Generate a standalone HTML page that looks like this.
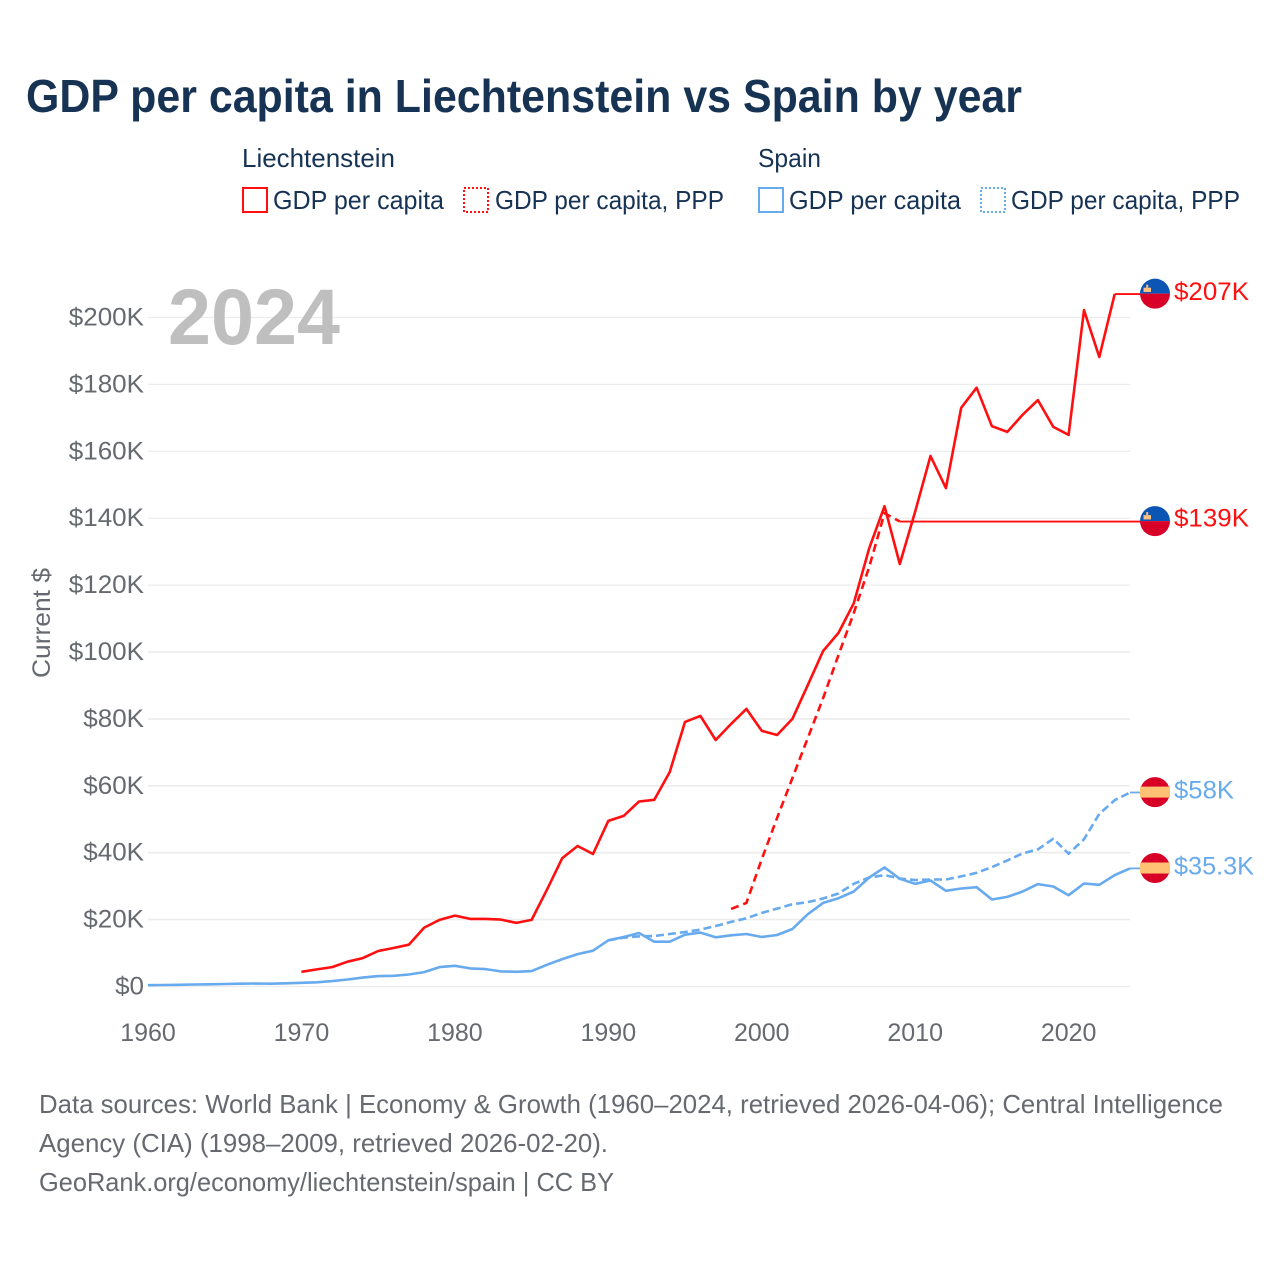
<!DOCTYPE html>
<html lang="en">
<head>
<meta charset="utf-8">
<title>GDP per capita in Liechtenstein vs Spain by year</title>
<style>
html,body{margin:0;padding:0;background:#fff;}
svg{display:block;}
text{font-family:"Liberation Sans",sans-serif;}
</style>
</head>
<body>
<svg id="chart" xmlns="http://www.w3.org/2000/svg" width="1280" height="1280" viewBox="0 0 1280 1280">
  <rect x="0" y="0" width="1280" height="1280" fill="#fff"/>
  <text x="26" y="112" font-size="46" font-weight="700" fill="#173354" textLength="996" lengthAdjust="spacingAndGlyphs">GDP per capita in Liechtenstein vs Spain by year</text>

  <g font-size="26" fill="#173354">
    <text x="242" y="167" textLength="153" lengthAdjust="spacingAndGlyphs">Liechtenstein</text>
    <text x="758" y="167" textLength="63" lengthAdjust="spacingAndGlyphs">Spain</text>
    <rect x="243" y="188" width="24" height="24" fill="none" stroke="#ff0f0f" stroke-width="2"/>
    <text x="273" y="209" textLength="171" lengthAdjust="spacingAndGlyphs">GDP per capita</text>
    <rect x="464" y="188" width="24" height="24" fill="none" stroke="#ff0f0f" stroke-width="2" stroke-dasharray="2 2"/>
    <text x="495" y="209" textLength="229" lengthAdjust="spacingAndGlyphs">GDP per capita, PPP</text>
    <rect x="759" y="188" width="24" height="24" fill="none" stroke="#68aaee" stroke-width="2"/>
    <text x="789" y="209" textLength="172" lengthAdjust="spacingAndGlyphs">GDP per capita</text>
    <rect x="981" y="188" width="24" height="24" fill="none" stroke="#68aaee" stroke-width="2" stroke-dasharray="2 2"/>
    <text x="1011" y="209" textLength="229" lengthAdjust="spacingAndGlyphs">GDP per capita, PPP</text>
  </g>

  <g id="grid"></g>
  <g id="yticks"></g>
  <g id="xticks"></g>

  <text x="168" y="344" font-size="79" font-weight="700" fill="#bfbfbf" textLength="172" lengthAdjust="spacingAndGlyphs">2024</text>
  <text transform="translate(50,678) rotate(-90)" font-size="25" fill="#666a70" textLength="110" lengthAdjust="spacingAndGlyphs">Current $</text>

  <g id="series"></g>
  <g id="ends"></g>

  <g font-size="26" fill="#666a70">
    <text x="39" y="1113" textLength="1184" lengthAdjust="spacingAndGlyphs">Data sources: World Bank | Economy &amp; Growth (1960–2024, retrieved 2026-04-06); Central Intelligence</text>
    <text x="39" y="1152" textLength="569" lengthAdjust="spacingAndGlyphs">Agency (CIA) (1998–2009, retrieved 2026-02-20).</text>
    <text x="39" y="1191" textLength="575" lengthAdjust="spacingAndGlyphs">GeoRank.org/economy/liechtenstein/spain | CC BY</text>
  </g>
</svg>
<script>
var yTickValues = [0,20,40,60,80,100,120,140,160,180,200];
var yTickLabels = ["$0","$20K","$40K","$60K","$80K","$100K","$120K","$140K","$160K","$180K","$200K"];
var xTickValues = [1960,1970,1980,1990,2000,2010,2020];
var xTickLabels = ["1960","1970","1980","1990","2000","2010","2020"];

var liechtensteinGdpStart = 1970;
var liechtensteinGdp = [4.4,5.1,5.8,7.4,8.5,10.6,11.5,12.5,17.6,19.9,21.2,20.2,20.2,20.0,19.0,19.9,28.9,38.4,42.0,39.6,49.5,51.0,55.3,55.8,64.1,79.1,80.9,73.7,78.5,83.0,76.4,75.2,80.0,90.1,100.3,105.7,114.6,131.0,143.6,126.3,142.0,158.6,149.0,173.0,179.0,167.5,165.8,170.9,175.3,167.3,164.9,202.2,188.2,207.0];
var liechtensteinPppStart = 1998;
var liechtensteinPpp = [23.2,25.0,38.1,50.4,62.3,74.3,86.2,99.1,111.7,125.4,141.5,139.0];
var spainGdpStart = 1960;
var spainGdp = [0.4,0.45,0.5,0.6,0.65,0.75,0.85,0.9,0.85,0.95,1.1,1.25,1.6,2.1,2.65,3.1,3.2,3.6,4.3,5.8,6.2,5.4,5.2,4.5,4.4,4.6,6.5,8.2,9.7,10.7,13.8,14.8,16.0,13.4,13.4,15.5,16.1,14.7,15.3,15.7,14.8,15.4,17.2,21.6,25.0,26.4,28.4,32.6,35.6,32.2,30.7,31.7,28.6,29.3,29.7,26.0,26.8,28.4,30.6,29.9,27.3,30.8,30.4,33.3,35.3];
var spainPppStart = 1990;
var spainPpp = [13.8,14.6,15.0,15.1,15.7,16.3,17.0,18.1,19.3,20.4,22.0,23.3,24.6,25.2,26.3,27.8,30.7,32.6,33.3,32.3,31.8,32.0,32.0,32.9,34.0,35.7,37.7,39.8,41.0,44.2,39.7,44.0,51.6,55.7,58.0];

var endLabels = ["$207K","$139K","$58K","$35.3K"];

var NS = "http://www.w3.org/2000/svg";
var RED = "#ff0f0f";
var BLUE = "#68aaee";

function xScale(year){ return 148 + (year - 1960) * (1130 - 148) / 64; }
function yScale(k){ return 986.5 - k * (986.5 - 317.5) / 200; }

function make(tag, attrs, parent){
  var el = document.createElementNS(NS, tag);
  for (var key in attrs){ el.setAttribute(key, attrs[key]); }
  parent.appendChild(el);
  return el;
}

function stretch(t, factor){
  t.setAttribute("textLength", (t.getComputedTextLength() * factor).toFixed(1));
  t.setAttribute("lengthAdjust", "spacingAndGlyphs");
}

var gridG = document.getElementById("grid");
var yG = document.getElementById("yticks");
var xG = document.getElementById("xticks");
var seriesG = document.getElementById("series");
var endsG = document.getElementById("ends");

yTickValues.forEach(function(v, i){
  var line = make("line", {x1:148, x2:1130, y1:yScale(v), y2:yScale(v), stroke:"#ececec", "stroke-width":v === 0 || v >= 120 ? 1.2 : 1.6}, gridG);
  
  
  var t = make("text", {x:144, y:yScale(v) + 8, "text-anchor":"end", "font-size":25, fill:"#666a70"}, yG);
  
  
  t.textContent = yTickLabels[i];
  stretch(t, 1.04);
});

xTickValues.forEach(function(v, i){
  var t = make("text", {x:xScale(v), y:1041, "text-anchor":"middle", "font-size":25, fill:"#666a70"}, xG);
  
  
  t.textContent = xTickLabels[i];
  stretch(t, 1.0);
});

function drawSeries(values, start, color, dash, name){
  var pts = values.map(function(v, i){ return xScale(start + i).toFixed(1) + "," + yScale(v).toFixed(1); }).join(" ");
  var attrs = {points:pts, fill:"none", stroke:color, "stroke-width":2.6, "stroke-linejoin":"round"};
  if (dash){ attrs["stroke-dasharray"] = dash; }
  var el = make("polyline", attrs, seriesG);
  
  
}

function drawEnd(values, start, color, flag, label, labelDy, labelW, name){
  var last = values[values.length - 1];
  var lastX = xScale(start + values.length - 1);
  var y = yScale(last);
  var leader = make("line", {x1:lastX, x2:1141, y1:y, y2:y, stroke:color, "stroke-width":1.8}, endsG);
  
  
  var g = make("g", {transform:"translate(1155," + (y - 0.4) + ")"}, endsG);
  
  
  if (flag === "li"){
    make("path", {d:"M-15 0A15 15 0 0 1 15 0Z", fill:"#0b55b5"}, g);
    make("path", {d:"M-15 0A15 15 0 0 0 15 0Z", fill:"#d80027"}, g);
    make("rect", {x:-11.5, y:-6, width:7.5, height:4.3, fill:"#ffc080"}, g);
    make("rect", {x:-8.8, y:-9, width:2, height:3, fill:"#ffc080"}, g);
  } else {
    make("circle", {cx:0, cy:0, r:15, fill:"#d80027"}, g);
    make("rect", {x:-15, y:-5.5, width:30, height:11, fill:"#ffc275"}, g);
  }
  var t = make("text", {x:1174, y:y + labelDy, "font-size":25, fill:color, textLength:labelW, lengthAdjust:"spacingAndGlyphs"}, endsG);
  
  
  t.textContent = label;
}

drawSeries(liechtensteinGdp, liechtensteinGdpStart, RED, null, "liechtenstein-gdp-line");
drawSeries(liechtensteinPpp, liechtensteinPppStart, RED, "8 5", "liechtenstein-ppp-line");
drawSeries(spainGdp, spainGdpStart, BLUE, null, "spain-gdp-line");
drawSeries(spainPpp, spainPppStart, BLUE, "8 4", "spain-ppp-line");

drawEnd(liechtensteinGdp, liechtensteinGdpStart, RED, "li", endLabels[0], 6, 75, "liechtenstein-gdp");
drawEnd(liechtensteinPpp, liechtensteinPppStart, RED, "li", endLabels[1], 5, 75, "liechtenstein-ppp");
drawEnd(spainPpp, spainPppStart, BLUE, "es", endLabels[2], 6, 60, "spain-ppp");
drawEnd(spainGdp, spainGdpStart, BLUE, "es", endLabels[3], 6, 80, "spain-gdp");
</script>
</body>
</html>
